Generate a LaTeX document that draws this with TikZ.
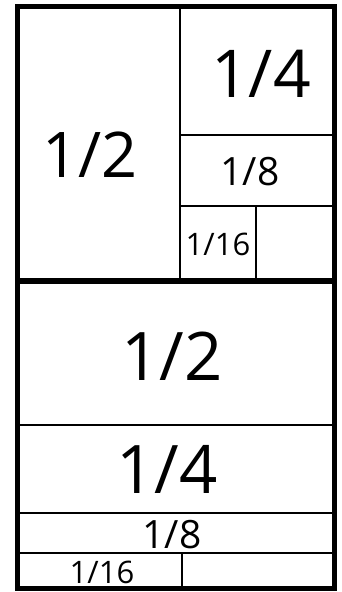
\documentclass[tikz,border=0pt]{standalone}
\usepackage{fontspec}
\setmainfont{Open Sans}
\begin{document}
\begin{tikzpicture}[x=1pt,y=-1pt,
  outer/.style={line width=5pt},
  mid/.style={line width=6pt},
  inner/.style={line width=2pt},
  lbl/.style={anchor=base,inner sep=0pt,font=#1},
  lbl/.default=\fontsize{64}{64}\selectfont]
\useasboundingbox (0,0) rectangle (341,592);
% inner lines
\draw[inner] (180,6) -- (180,281);
\draw[inner] (180,135) -- (334,135);
\draw[inner] (180,206) -- (334,206);
\draw[inner] (256,206) -- (256,281);
\draw[inner] (17,425) -- (334,425);
\draw[inner] (17,513) -- (334,513);
\draw[inner] (17,553) -- (334,553);
\draw[inner] (182,553) -- (182,588);
% thick lines
\draw[mid] (15,281) -- (336,281);
\draw[outer] (17,6) rectangle (334,588);
% labels
\node[lbl=\fontsize{63}{63}\selectfont] (t2) at (90,177) {1/2};
\node[lbl=\fontsize{66}{66}\selectfont] (t4) at (261,97) {1/4};
\node[lbl=\fontsize{39}{39}\selectfont] (t8) at (250,185) {1/8};
\node[lbl=\fontsize{31}{31}\selectfont] (t16) at (218,255) {1/16};
\node[lbl=\fontsize{67}{67}\selectfont] (b2) at (172,380) {1/2};
\node[lbl=\fontsize{67}{67}\selectfont] (b4) at (167,493) {1/4};
\node[lbl=\fontsize{39}{39}\selectfont] (b8) at (172,548) {1/8};
\node[lbl=\fontsize{31}{31}\selectfont] (b16) at (102,583) {1/16};
\end{tikzpicture}
\end{document}
